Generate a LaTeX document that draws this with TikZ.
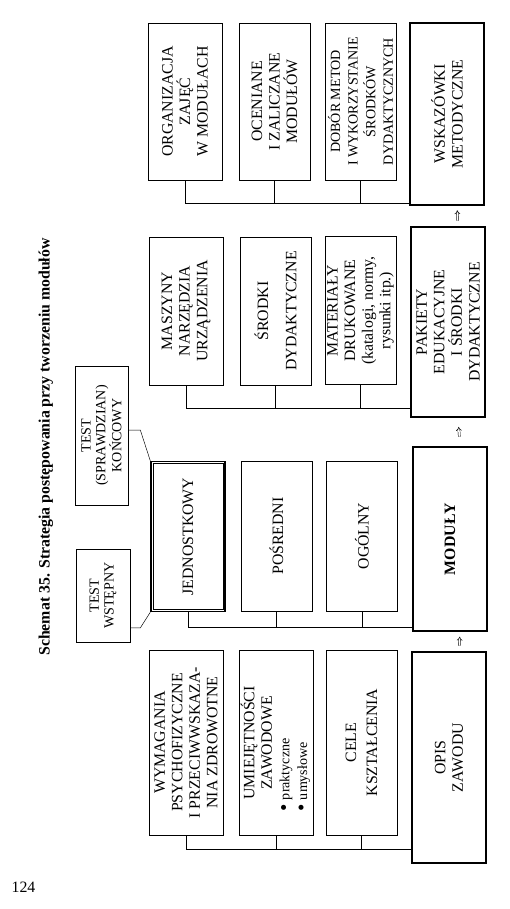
\documentclass[tikz,border=0pt]{standalone}
\usepackage{fontspec}
\setmainfont{Liberation Serif}
\usepackage{tikz}
\usetikzlibrary{arrows.meta}

\newcommand{\boxfont}{\fontsize{13.5}{15}\selectfont}
\newcommand{\testfont}{\fontsize{12}{12.5}\selectfont}
\newcommand{\bigdot}{\raisebox{-0.15ex}{\fontsize{18}{14}\selectfont\textbullet}}

\begin{document}
\begin{tikzpicture}[
  x=0.03cm, y=-0.03cm,
  box/.style={draw, rotate=90, line width=0.6pt, inner sep=1pt, align=center, font=\boxfont},
  colA/.style={box, minimum height=2.22cm},
  colB/.style={box, minimum height=2.13cm},
  colC/.style={box, minimum height=2.13cm},
  main/.style={box, line width=1pt, minimum height=2.22cm},
  testbox/.style={box, font=\testfont},
  bus/.style={line width=0.6pt},
  up/.style={-{Implies}, double, double distance=1.3pt, line width=0.4pt, shorten <=5pt, shorten >=4pt},
  link/.style={line width=0.4pt}
]
\useasboundingbox (0,0) rectangle (509,909);

% Title and page number
\node[rotate=90, font=\fontsize{13.5}{15}\selectfont\bfseries] (title) at (46,447) {Schemat 35. Strategia postępowania przy tworzeniu modułów};
\node[font=\boxfont] (pagenum) at (23.5,887) {124};

% Main chain
\node[main, minimum width=6.33cm] (opis) at (449,757.5) {OPIS\\ZAWODU};
\node[main, line width=1.8pt, minimum width=5.52cm] (mod) at (450,539) {\textbf{MODUŁY}};
\node[main, minimum width=5.7cm] (pak) at (448,322) {PAKIETY\\EDUKACYJNE\\I ŚRODKI\\DYDAKTYCZNE};
\node[main, minimum width=5.46cm] (wsk) at (447,114) {WSKAZÓWKI\\METODYCZNE};

\draw[up] ([xshift=0.3cm]opis.east) -- ([xshift=0.3cm]mod.west);
\draw[up, shorten <=8pt, shorten >=8pt] ([xshift=0.3cm]mod.east) -- ([xshift=0.3cm]pak.west);
\draw[up] ([xshift=0.3cm]pak.east) -- ([xshift=0.3cm]wsk.west);

% Row 1
\node[colA, minimum width=5.55cm] (wym) at (186,742.5) {WYMAGANIA\\PSYCHOFIZYCZNE\\I PRZECIWWSKAZA-\\NIA ZDROWOTNE};
\node[colB, minimum width=5.55cm] (umi) at (276.5,743) {\begin{tabular}{@{}l@{}}
  \multicolumn{1}{@{}c@{}}{UMIEJĘTNOŚCI}\\
  \multicolumn{1}{@{}c@{}}{ZAWODOWE}\\
  \hspace{-0.35cm}\bigdot\ {\fontsize{12}{14}\selectfont praktyczne}\\
  \hspace{-0.35cm}\bigdot\ {\fontsize{12}{14}\selectfont umysłowe}
\end{tabular}};
\node[colC, minimum width=5.55cm] (cele) at (361.5,742.5) {CELE\\[3pt]KSZTAŁCENIA};

\coordinate (bus1) at (0,849);
\draw[bus] (wym.west) |- (opis.north |- bus1);
\foreach \n in {umi,cele}
  \draw[bus] (\n.west) -- (\n.west |- bus1);

% Row 2
\node[colA, line width=1.2pt, minimum width=4.5cm] (jed) at (188,536.5) {JEDNOSTKOWY};
\draw[line width=0.4pt] ([shift={(2.2pt,-2.2pt)}]jed.north east) rectangle ([shift={(-2.2pt,2.2pt)}]jed.south west);
\node[colB, minimum width=4.5cm] (pos) at (276.5,536) {POŚREDNI};
\node[colC, minimum width=4.5cm] (ogo) at (362,536) {OGÓLNY};

\coordinate (bus2) at (0,627);
\draw[bus] (jed.west) |- (mod.north |- bus2);
\foreach \n in {pos,ogo}
  \draw[bus] (\n.west) -- (\n.west |- bus2);

% Tests
\node[testbox, minimum width=4.17cm, minimum height=1.59cm] (kon) at (101.5,435.5) {TEST\\(SPRAWDZIAN)\\KOŃCOWY};
\node[testbox, minimum width=2.79cm, minimum height=1.62cm] (wst) at (103,595.5) {TEST\\WSTĘPNY};

\draw[link] ([yshift=0.16cm]kon.south) -- ++(12,0) -- (jed.north east);
\draw[link] ([yshift=-0.97cm]wst.south) -- ++(10,0) -- (jed.north west);

% Row 3
\node[colA, minimum width=4.44cm] (mas) at (186,311) {MASZYNY\\NARZĘDZIA\\URZĄDZENIA};
\node[colB, minimum width=4.44cm] (sro) at (275.5,311) {ŚRODKI\\[9pt]DYDAKTYCZNE};
\node[colC, minimum width=4.44cm] (mat) at (360.5,310.5) {MATERIAŁY\\DRUKOWANE\\(katalogi, normy,\\rysunki itp.)};

\coordinate (bus3) at (0,408);
\draw[bus] (mas.west) |- (pak.north |- bus3);
\foreach \n in {sro,mat}
  \draw[bus] (\n.west) -- (\n.west |- bus3);

% Row 4
\node[colA, minimum width=4.71cm] (org) at (185,101.5) {ORGANIZACJA\\ZAJĘĆ\\W MODUŁACH};
\node[colB, minimum width=4.71cm] (oce) at (274.5,101.5) {OCENIANE\\I ZALICZANE\\MODUŁÓW};
\node[colC, minimum width=4.71cm, font=\fontsize{12}{15}\selectfont] (dob) at (360.5,101.5) {DOBÓR METOD\\I WYKORZYSTANIE\\ŚRODKÓW\\DYDAKTYCZNYCH};

\coordinate (bus4) at (0,203);
\draw[bus] (org.west) |- (wsk.north |- bus4);
\foreach \n in {oce,dob}
  \draw[bus] (\n.west) -- (\n.west |- bus4);
\end{tikzpicture}
\end{document}
